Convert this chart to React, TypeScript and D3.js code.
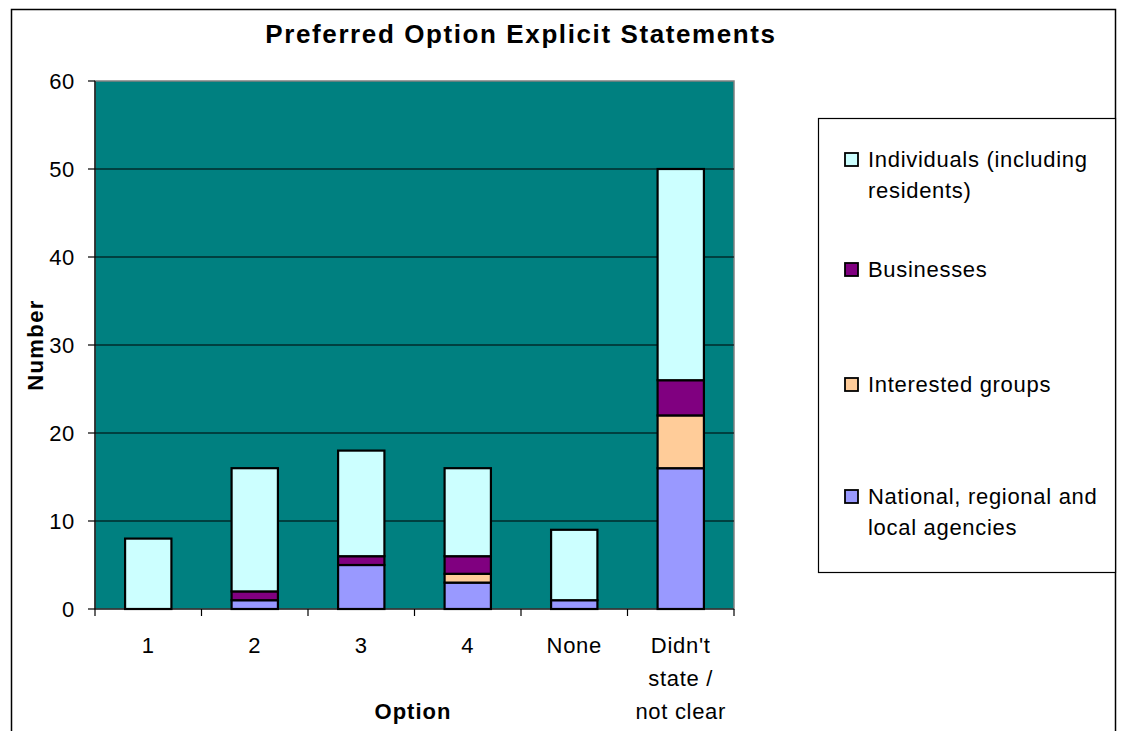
import React from "react";
import * as d3 from "d3";

const categories = ["1", "2", "3", "4", "None", "Didn't state / not clear"];
const categoryLines: string[][] = [["1"], ["2"], ["3"], ["4"], ["None"], ["Didn't", "state /", "not clear"]];

const seriesNames = [
  "National, regional and local agencies",
  "Interested groups",
  "Businesses",
  "Individuals (including residents)",
];
const national = [0, 1, 5, 3, 1, 16];
const interested = [0, 0, 0, 1, 0, 6];
const businesses = [0, 1, 1, 2, 0, 4];
const individuals = [8, 14, 12, 10, 8, 24];
const seriesColors = ["#9999FF", "#FFCC99", "#800080", "#CCFFFF"];
const yTicks = [0, 10, 20, 30, 40, 50, 60];

const legendItems = [
  { idx: 3, lines: ["Individuals (including", "residents)"] },
  { idx: 2, lines: ["Businesses"] },
  { idx: 1, lines: ["Interested groups"] },
  { idx: 0, lines: ["National, regional and", "local agencies"] },
];

const FONT = "'Liberation Sans', Arial, sans-serif";
const FS = 22;
const LS = 0.7;

export default function App() {
  const W = 1122;
  const H = 731;
  const plot = { left: 95, right: 734, top: 81, bottom: 609 };

  const x = d3
    .scaleBand<string>()
    .domain(categories)
    .range([plot.left, plot.right])
    .paddingInner(0.565)
    .paddingOuter(0.2825);
  const xBand = d3.scaleBand<string>().domain(categories).range([plot.left, plot.right]);
  const y = d3.scaleLinear().domain([0, 60]).range([plot.bottom, plot.top]);

  const rows = categories.map((c, i) => ({
    cat: c,
    s0: national[i],
    s1: interested[i],
    s2: businesses[i],
    s3: individuals[i],
  }));
  const stack = d3.stack<any>().keys(["s0", "s1", "s2", "s3"]);
  const layers = stack(rows);

  const tickXs = categories.map((c) => xBand(c)!).concat([plot.right]);

  return (
    <svg
      width={W}
      height={H}
      style={{ position: "absolute", left: 0, top: 0, display: "block", background: "#fff" }}
      fontFamily={FONT}
    >
      {/* chart frame */}
      <rect x={11.5} y={9.5} width={1104} height={800} fill="#fff" stroke="#000" strokeWidth={1.5} />

      {/* title */}
      <text x={521} y={43} textAnchor="middle" fontSize={26} fontWeight="bold" letterSpacing={1.6} fill="#000">
        Preferred Option Explicit Statements
      </text>

      {/* plot area */}
      <rect
        x={plot.left}
        y={plot.top}
        width={plot.right - plot.left}
        height={plot.bottom - plot.top}
        fill="#008080"
        stroke="#808080"
        strokeWidth={1.5}
      />

      {/* gridlines */}
      {yTicks.slice(1, -1).map((t) => (
        <line key={t} x1={plot.left} x2={plot.right} y1={y(t)} y2={y(t)} stroke="#000" strokeWidth={1.2} />
      ))}

      {/* stacked bars */}
      {layers.map((layer, li) =>
        layer.map((d, i) => {
          const v = d[1] - d[0];
          if (v <= 0) return null;
          return (
            <rect
              key={`${li}-${i}`}
              x={x(categories[i])!}
              y={y(d[1])}
              width={x.bandwidth()}
              height={y(d[0]) - y(d[1])}
              fill={seriesColors[li]}
              stroke="#000"
              strokeWidth={2.2}
            />
          );
        })
      )}

      {/* axes */}
      <line x1={plot.left} x2={plot.left} y1={plot.top} y2={plot.bottom} stroke="#000" strokeWidth={1.2} />
      <line x1={plot.left} x2={plot.right} y1={plot.bottom} y2={plot.bottom} stroke="#000" strokeWidth={1.2} />
      {yTicks.map((t) => (
        <g key={t}>
          <line x1={plot.left - 7} x2={plot.left} y1={y(t)} y2={y(t)} stroke="#000" strokeWidth={1.2} />
          <text x={75} y={y(t) + 8} textAnchor="end" fontSize={FS} letterSpacing={LS} fill="#000">
            {t}
          </text>
        </g>
      ))}
      {tickXs.map((tx, i) => (
        <line key={i} x1={tx} x2={tx} y1={plot.bottom} y2={plot.bottom + 7} stroke="#000" strokeWidth={1.2} />
      ))}
      {categories.map((c, i) => (
        <text key={c} textAnchor="middle" fontSize={FS} letterSpacing={LS} fill="#000">
          {categoryLines[i].map((ln, k) => (
            <tspan key={k} x={xBand(c)! + xBand.bandwidth() / 2} y={653 + k * 33}>
              {ln}
            </tspan>
          ))}
        </text>
      ))}

      {/* axis titles */}
      <text x={413} y={719} textAnchor="middle" fontSize={FS} fontWeight="bold" letterSpacing={1} fill="#000">
        Option
      </text>
      <text
        transform={`translate(43, ${(plot.top + plot.bottom) / 2}) rotate(-90)`}
        textAnchor="middle"
        fontSize={FS}
        fontWeight="bold"
        letterSpacing={1.4}
        fill="#000"
      >
        Number
      </text>

      {/* legend */}
      <rect x={818.5} y={118.5} width={297} height={454} fill="#fff" stroke="#000" strokeWidth={1.2} />
      {legendItems.map((it, k) => {
        const cy = [159.5, 269.5, 384.5, 496.5][k];
        return (
          <g key={k}>
            <rect x={845} y={cy - 6.5} width={13} height={13} fill={seriesColors[it.idx]} stroke="#000" strokeWidth={1.8} />
            <text fontSize={FS} letterSpacing={LS} fill="#000">
              {it.lines.map((ln, j) => (
                <tspan key={j} x={868} y={cy + 7 + j * 31}>
                  {ln}
                </tspan>
              ))}
            </text>
          </g>
        );
      })}
    </svg>
  );
}
